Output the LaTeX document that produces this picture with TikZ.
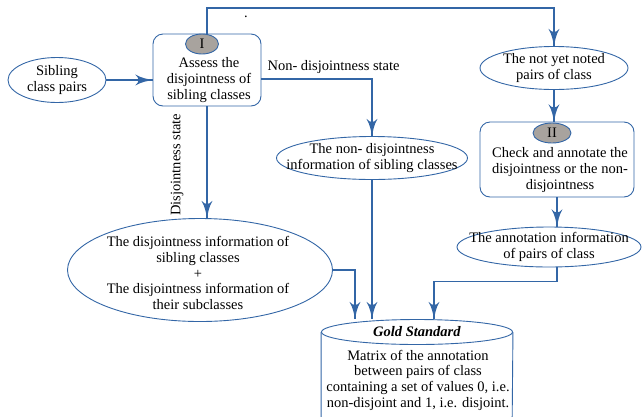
\documentclass[tikz,border=0pt]{standalone}
\usepackage{fontspec}
\setmainfont{Liberation Serif}
\usetikzlibrary{arrows}
\usetikzlibrary{decorations.markings}
\usetikzlibrary{shapes.geometric}
\usetikzlibrary{positioning}
\definecolor{lblue}{rgb}{0.2, 0.4, 0.65}
\definecolor{mgray}{rgb}{0.66, 0.64, 0.62}
\tikzset{->/.style = {decoration={markings,
                                  mark=at position 1 with {\arrow[xscale=2.7, yscale=2.3]{latex'}}},
                      postaction={decorate}}}
\tikzset{oval/.style = {draw=lblue, ellipse, line width=0.9pt, inner sep=0}}
\tikzset{procbox/.style = {draw=lblue, rounded corners=10pt, line width=0.9pt, inner sep=0}}
\tikzset{badge/.style = {draw=lblue, fill=mgray, ellipse, line width=0.9pt, inner sep=0, minimum height=20}}
\tikzset{txt/.style = {align=center, inner sep=0}}
\tikzset{conn/.style = {lblue, line width=1.2pt}}

\begin{document}
\begin{tikzpicture}[x=1pt, y=-1pt, font=\fontsize{14.5}{15.7}\selectfont]
      \useasboundingbox (0, 0) rectangle (642, 416);
      % step I
      \node (sib) [oval, minimum width=98, minimum height=45] at (57, 80) {};
      \node [txt] at (sib) {Sibling\\class pairs};
      \node (assess) [procbox, minimum width=108, minimum height=72] at (207, 70) {};
      \node (stepI) [badge, minimum width=33] at (202, 44) {I};
      \node [txt] at (209, 80) {Assess the\\disjointness of\\sibling classes};
      \node (nondis) [oval, minimum width=191, minimum height=43] at (372, 158) {};
      \node [txt] at (nondis) {The non- disjointness\\information of sibling classes};
      \node (big) [oval, minimum width=265, minimum height=103] at (200, 270) {};
      \node [txt] at (198, 273) {The disjointness information of\\sibling classes\\+\\The disjointness information of\\their subclasses};
      % step II
      \node (noted) [oval, minimum width=148, minimum height=43] at (554, 68) {};
      \node [txt] at (noted) {The not yet noted\\pairs of class};
      \node (check) [procbox, minimum width=154, minimum height=75] at (557, 159.5) {};
      \node (stepII) [badge, minimum width=38] at (552, 133) {II};
      \node [txt] at (560, 170) {Check and annotate the\\disjointness or the non-\\disjointness};
      \node (annot) [oval, minimum width=184, minimum height=40] at (549, 247) {};
      \node [txt] at (annot) {The annotation information\\of pairs of class};
      % gold standard
      \node (gstop) [oval, minimum width=191, minimum height=25] at (417, 332) {\textbf{\textit{Gold Standard}}};
      \draw [lblue, line width=0.9pt] (gstop.west) -- ++(0, 100)
            arc [start angle=180, end angle=360, x radius=95.5pt, y radius=12.5pt] -- (gstop.east);
      \node [txt] at (418, 380) {Matrix of the annotation\\between pairs of class\\containing a set of values 0, i.e.\\non-disjoint and 1, i.e. disjoint.};
      % connectors
      \draw [->, conn] (sib.east) -- (assess.west |- sib.east);
      \draw [->, conn] (assess.north) -- (assess.north |- 0, 8) -| (noted.north);
      \node (dot) at (246, 17) {.};
      \draw [->, conn] ([yshift=-9pt]assess.east) -| (nondis.north);
      \node [anchor=west] at (264, 67) {Non- disjointness state};
      \draw [->, conn] (assess.south) -- (assess.south |- big.north);
      \node [rotate=90] at (177, 165) {Disjointness state};
      \draw [->, conn] (big.east) -| ([xshift=-62pt]gstop.north);
      \draw [->, conn] (nondis.south) -- (nondis.south |- gstop.north);
      \draw [->, conn] (noted.south) -- (noted.south |- check.north);
      \draw [->, conn] (check.south) -- (check.south |- annot.north);
      \draw [->, conn] (check.south |- annot.south) -- ++(0, 14) -| ([xshift=17pt]gstop.north);
    \end{tikzpicture}
\end{document}
